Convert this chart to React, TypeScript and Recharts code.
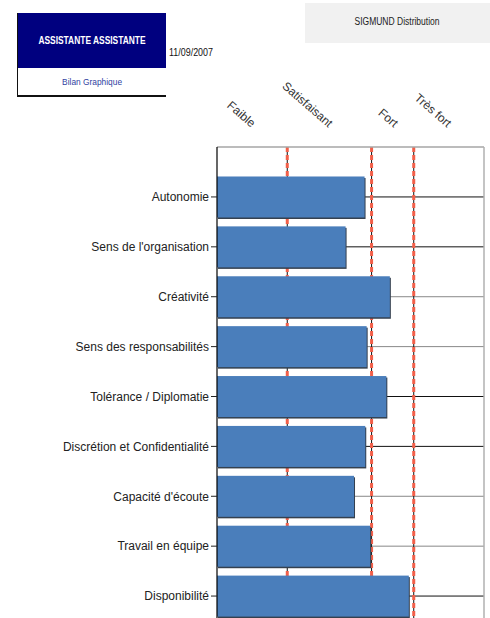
import React from 'react';
import { ComposedChart, Bar, Line, XAxis, YAxis, CartesianGrid } from 'recharts';

const categories = [
  'Autonomie',
  "Sens de l'organisation",
  'Créativité',
  'Sens des responsabilités',
  'Tolérance / Diplomatie',
  'Discrétion et Confidentialité',
  "Capacité d'écoute",
  'Travail en équipe',
  'Disponibilité',
];
const scores = [10.5, 9.15, 12.3, 10.65, 12.05, 10.55, 9.75, 10.9, 13.65];

const levelLabels = ['Faible', 'Satisfaisant', 'Fort', 'Très fort'];
const levelLabelPositions = [2.35, 7.85, 12.5, 16.3];
const thresholdTicks = [5, 11, 14];
const scaleMax = 19;
const gridColors = ['#111', '#111', '#888', '#888', '#111', '#111', '#888', '#888', '#111'];

const data = categories.map((name, i) => ({ name, value: scores[i] }));

const FONT = "'Liberation Sans', Arial, Helvetica, sans-serif";

const BarShape = (props: any) => {
  const { x, y, width, height } = props;
  return (
    <g>
      <rect x={x + 1} y={y + 1.5} width={width} height={height} fill="#34404f" />
      <rect x={x} y={y} width={width} height={height} fill="#4a7ebb" />
    </g>
  );
};

const renderTopTick = (props: any) => {
  const { x, y, index } = props;
  return (
    <text
      key={`tt-${index}`}
      transform={`translate(${x + 1},${y - 11}) rotate(41)`}
      textAnchor="end"
      fontSize={12}
      fontFamily={FONT}
      fill="#333"
    >
      {levelLabels[index]}
    </text>
  );
};

const emptyTick = (props: any) => <g key={`e-${props.index}`} />;

const HLine = (props: any) => {
  const { x1, y1, x2, y2, index } = props;
  return <line key={`h-${index}`} x1={x1} y1={y1} x2={x2} y2={y2} stroke={gridColors[index] || '#555'} strokeWidth={1} />;
};

export default function App() {
  return (
    <div
      style={{
        position: 'absolute',
        left: 0,
        top: 0,
        width: 490,
        height: 618,
        overflow: 'hidden',
        background: '#fff',
        fontFamily: FONT,
      }}
    >
      <div style={{ position: 'absolute', left: 0, top: 0 }}>
        <ComposedChart
          width={490}
          height={622}
          data={data}
          layout="vertical"
          margin={{ top: 0, right: 0, bottom: 0, left: 0 }}
          barCategoryGap="9%"
        >
          <CartesianGrid syncWithTicks vertical={true} horizontal={HLine as any} stroke="#111" strokeWidth={1} />
          <CartesianGrid syncWithTicks vertical={true} horizontal={false} stroke="#f2604a" strokeWidth={3} strokeDasharray="5 3" />
          <XAxis
            type="number"
            xAxisId={0}
            orientation="bottom"
            domain={[0, scaleMax]}
            ticks={thresholdTicks}
            interval={0}
            height={1}
            axisLine={false}
            tickLine={false}
            tick={emptyTick}
          />
          <XAxis
            type="number"
            xAxisId="top"
            orientation="top"
            domain={[0, scaleMax]}
            ticks={levelLabelPositions}
            interval={0}
            height={147}
            axisLine={{ stroke: '#a6a6a6', strokeWidth: 1.5 }}
            tickLine={false}
            tick={renderTopTick}
          />
          <YAxis
            type="category"
            dataKey="name"
            yAxisId={0}
            width={217}
            padding={{ top: 25, bottom: 0 }}
            interval={0}
            axisLine={{ stroke: '#000', strokeWidth: 1.2 }}
            tickLine={{ stroke: '#222' }}
            tickSize={6}
            tickMargin={2}
            tick={{ fontSize: 12, fill: '#222', fontFamily: FONT }}
          />
          <YAxis
            type="category"
            dataKey="name"
            yAxisId="right"
            orientation="right"
            width={6}
            padding={{ top: 25, bottom: 0 }}
            axisLine={{ stroke: '#b0b0b0', strokeWidth: 1.5 }}
            tickLine={false}
            tick={emptyTick}
          />
          <Bar dataKey="value" xAxisId={0} yAxisId={0} isAnimationActive={false} shape={<BarShape />} />
          <Line
            dataKey="value"
            xAxisId="top"
            yAxisId="right"
            stroke="none"
            strokeOpacity={0}
            dot={false}
            activeDot={false}
            legendType="none"
            isAnimationActive={false}
          />
        </ComposedChart>
      </div>

      <div
        style={{
          position: 'absolute',
          left: 17,
          top: 13,
          width: 149,
          height: 84,
          borderLeft: '1.5px solid #111',
          borderBottom: '2px solid #111',
          boxSizing: 'border-box',
        }}
      >
        <div
          style={{
            height: 55,
            background: '#00007f',
            color: '#fff',
            fontWeight: 'bold',
            fontSize: 10.5,
            lineHeight: '55px',
            textAlign: 'center',
            whiteSpace: 'nowrap',
          }}
        >
          <span style={{ display: 'inline-block', transform: 'scaleX(0.8)' }}>ASSISTANTE ASSISTANTE</span>
        </div>
        <div
          style={{
            height: 28,
            color: '#2f3f9f',
            fontSize: 9.5,
            lineHeight: '28px',
            textAlign: 'center',
            whiteSpace: 'nowrap',
          }}
        >
          <span style={{ display: 'inline-block', transform: 'scaleX(0.88)' }}>Bilan Graphique</span>
        </div>
      </div>

      <div
        style={{
          position: 'absolute',
          left: 169,
          top: 46,
          fontSize: 10.5,
          color: '#111',
          whiteSpace: 'nowrap',
          transformOrigin: 'left center',
          transform: 'scaleX(0.85)',
        }}
      >
        11/09/2007
      </div>

      <div
        style={{
          position: 'absolute',
          left: 305,
          top: 3,
          width: 185,
          height: 40,
          background: '#f1f1f1',
          fontSize: 10,
          lineHeight: '38px',
          textAlign: 'center',
          color: '#222',
          whiteSpace: 'nowrap',
        }}
      >
        <span style={{ display: 'inline-block', transform: 'scaleX(0.85)' }}>SIGMUND Distribution</span>
      </div>
    </div>
  );
}
